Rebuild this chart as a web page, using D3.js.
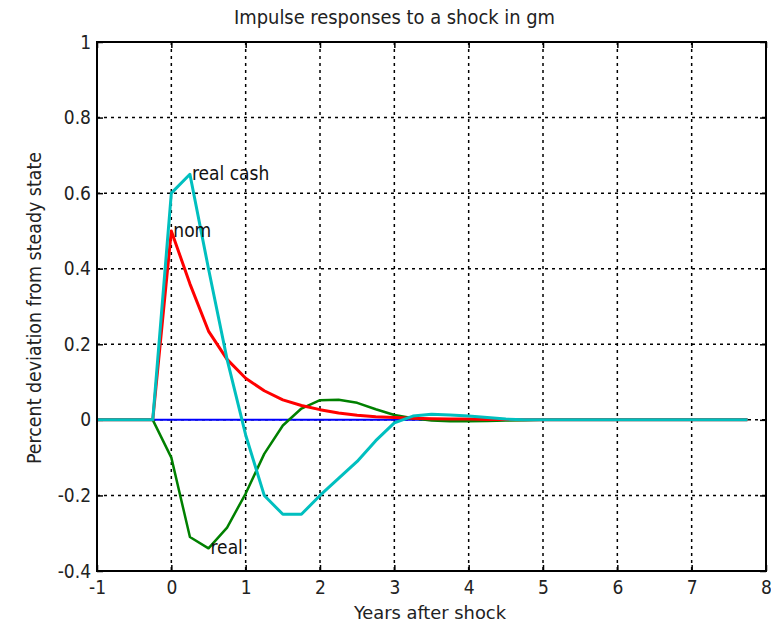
<!DOCTYPE html>
<html>
<head>
<meta charset="utf-8">
<script src="https://cdn.jsdelivr.net/npm/d3@7"></script>
<style>
  body { margin: 0; background: #fff; }
  svg text { font-family: "DejaVu Sans Condensed", "Liberation Sans Narrow", "Liberation Sans", sans-serif; }
</style>
</head>
<body>
<script>
//impulse responses, quarterly steps in years
var years = [-1, -0.75, -0.5, -0.25, 0, 0.25, 0.5, 0.75, 1, 1.25, 1.5, 1.75, 2, 2.25, 2.5, 2.75,
    3, 3.25, 3.5, 3.75, 4, 4.25, 4.5, 4.75, 5, 5.25, 5.5, 5.75, 6, 6.25, 6.5, 6.75, 7, 7.25, 7.5, 7.75];

var zeroLine = [0, 0, 0, 0, 0, 0, 0, 0, 0, 0, 0, 0, 0, 0, 0, 0, 0, 0,
    0, 0, 0, 0, 0, 0, 0, 0, 0, 0, 0, 0, 0, 0, 0, 0, 0, 0];
var realResp = [0, 0, 0, 0, -0.10, -0.31, -0.34, -0.285, -0.195, -0.09, -0.015, 0.03, 0.052, 0.053, 0.045, 0.028,
    0.013, 0.004, -0.002, -0.004, -0.004, -0.003, -0.002, -0.001, 0, 0, 0, 0, 0, 0, 0, 0, 0, 0, 0, 0];
var nomResp = [0, 0, 0, 0, 0.50, 0.36, 0.235, 0.16, 0.11, 0.077, 0.053, 0.038, 0.027, 0.018, 0.012, 0.008,
    0.006, 0.004, 0.003, 0.002, 0.002, 0.001, 0.001, 0, 0, 0, 0, 0, 0, 0, 0, 0, 0, 0, 0, 0];
var cashResp = [0, 0, 0, 0, 0.60, 0.65, 0.40, 0.16, -0.04, -0.20, -0.25, -0.25, -0.20, -0.155, -0.11, -0.055,
    -0.008, 0.01, 0.015, 0.013, 0.01, 0.006, 0.002, 0, 0, 0, 0, 0, 0, 0, 0, 0, 0, 0, 0, 0];

var xTicks = [-1, 0, 1, 2, 3, 4, 5, 6, 7, 8];
var yTicks = [-0.4, -0.2, 0, 0.2, 0.4, 0.6, 0.8, 1];

//drawing order follows the plot call: blue, green, red, cyan
var series = [
    {name: "zero", values: zeroLine, color: "#0000ff", width: 2},
    {name: "real", values: realResp, color: "#008000", width: 2.5},
    {name: "nom", values: nomResp, color: "#ff0000", width: 3},
    {name: "real cash", values: cashResp, color: "#00bfbf", width: 3}
];

//labels placed like matlab text(x, y, str)
var labels = [
    {text: "real cash", x: 0.25, y: 0.65},
    {text: "nom", x: 0, y: 0.5},
    {text: "real", x: 0.5, y: -0.34}
];

var width = 771, height = 625;
var margin = {top: 42, right: 5, bottom: 54, left: 97};
var innerW = width - margin.left - margin.right,
    innerH = height - margin.top - margin.bottom;

var svg = d3.select("body").append("svg")
    .attr("width", width)
    .attr("height", height);

var g = svg.append("g")
    .attr("transform", "translate(" + margin.left + "," + margin.top + ")");

var x = d3.scaleLinear().domain([-1, 8]).range([0, innerW]);
var y = d3.scaleLinear().domain([-0.4, 1]).range([innerH, 0]);

//plain hyphen minus like the original
var fmt = function(d){ return String(+d.toFixed(1)); };

//dotted grid
g.selectAll(".vgrid")
    .data(xTicks.slice(1, -1))
    .enter().append("line")
    .attr("x1", function(d){ return x(d); })
    .attr("x2", function(d){ return x(d); })
    .attr("y1", 0).attr("y2", innerH)
    .attr("stroke", "#000").attr("stroke-width", 1.5)
    .attr("stroke-dasharray", "3,4");
g.selectAll(".hgrid")
    .data(yTicks.slice(1, -1))
    .enter().append("line")
    .attr("y1", function(d){ return y(d); })
    .attr("y2", function(d){ return y(d); })
    .attr("x1", 0).attr("x2", innerW)
    .attr("stroke", "#000").attr("stroke-width", 1.5)
    .attr("stroke-dasharray", "3,4");

//axes with inward ticks
var xAxis = g.append("g")
    .attr("transform", "translate(0," + innerH + ")")
    .call(d3.axisBottom(x).tickValues(xTicks).tickSize(-6).tickPadding(10).tickFormat(fmt));
var xTop = g.append("g")
    .call(d3.axisTop(x).tickValues(xTicks).tickSize(-6).tickFormat(""));
var yAxis = g.append("g")
    .call(d3.axisLeft(y).tickValues(yTicks).tickSize(-6).tickPadding(6).tickFormat(fmt));
var yRight = g.append("g")
    .attr("transform", "translate(" + innerW + ",0)")
    .call(d3.axisRight(y).tickValues(yTicks).tickSize(-6).tickFormat(""));

[xAxis, xTop, yAxis, yRight].forEach(function(a){
    a.select(".domain").remove();
    a.selectAll(".tick line").attr("stroke", "#000").attr("stroke-width", 1.5);
    a.selectAll("text").style("font-size", "19px").attr("fill", "#222");
});

//series lines
var line = d3.line()
    .x(function(d, i){ return x(years[i]); })
    .y(function(d){ return y(d); });

g.selectAll(".series")
    .data(series)
    .enter().append("path")
    .attr("class", "series")
    .attr("d", function(s){ return line(s.values); })
    .attr("fill", "none")
    .attr("stroke", function(s){ return s.color; })
    .attr("stroke-width", function(s){ return s.width; })
    .attr("stroke-linejoin", "round");

//frame
g.append("rect")
    .attr("width", innerW).attr("height", innerH)
    .attr("fill", "none").attr("stroke", "#000").attr("stroke-width", 2);

//line labels
g.selectAll(".lbl")
    .data(labels)
    .enter().append("text")
    .attr("x", function(d){ return x(d.x) + 2; })
    .attr("y", function(d){ return y(d.y); })
    .attr("dy", "0.32em")
    .style("font-size", "19px")
    .attr("fill", "#111")
    .text(function(d){ return d.text; });

//titles
svg.append("text")
    .attr("x", 234).attr("y", 24)
    .attr("textLength", 321).attr("lengthAdjust", "spacingAndGlyphs")
    .style("font-size", "20px").attr("fill", "#222")
    .text("Impulse responses to a shock in gm");
svg.append("text")
    .attr("x", 354).attr("y", 619)
    .attr("textLength", 152).attr("lengthAdjust", "spacingAndGlyphs")
    .style("font-size", "18px").attr("fill", "#222")
    .text("Years after shock");
svg.append("text")
    .attr("transform", "translate(41,464) rotate(-90)")
    .attr("textLength", 312).attr("lengthAdjust", "spacingAndGlyphs")
    .style("font-size", "20px").attr("fill", "#222")
    .text("Percent deviation from steady state");
</script>
</body>
</html>
